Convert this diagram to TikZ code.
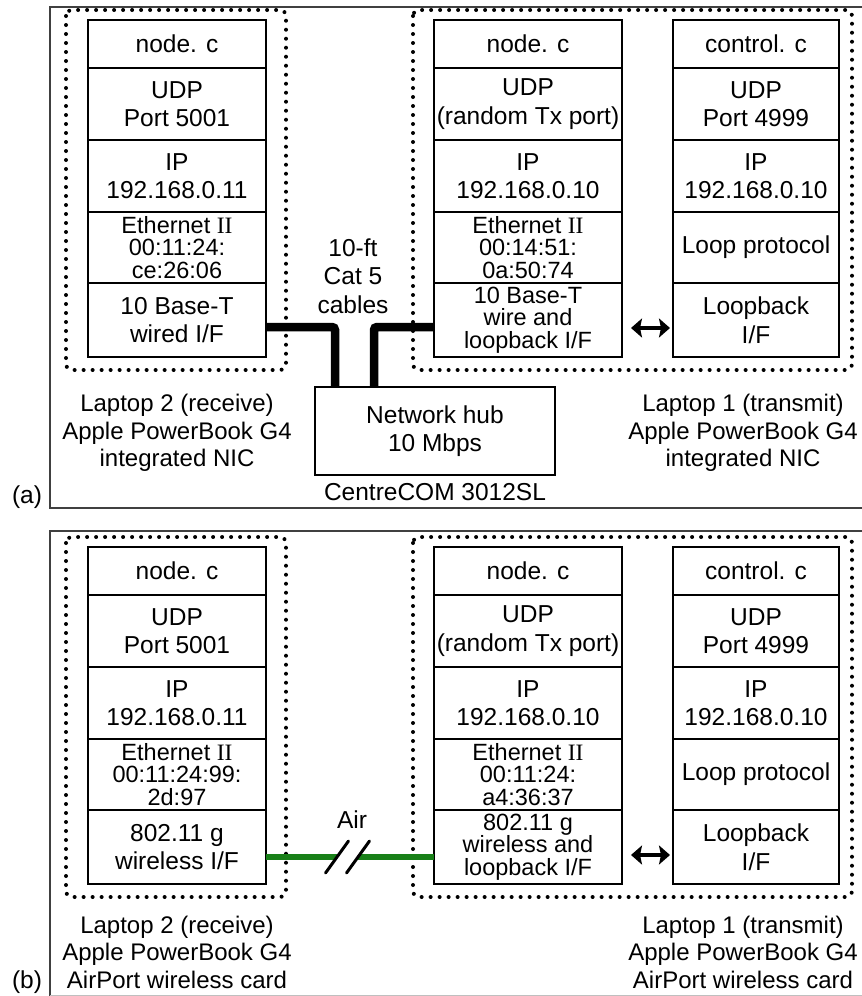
\documentclass[tikz,border=0pt]{standalone}
\usepackage{fontspec}
\setmainfont{Liberation Sans}
\newfontfamily\serifII{Liberation Serif}
\usetikzlibrary{arrows.meta,calc}
\newcommand\fsn{\fontsize{24.5}{28.5}\selectfont}
\newcommand\fst{\fontsize{23.5}{22.5}\selectfont}
\newcommand\fsc{\fontsize{24}{27.5}\selectfont}
\definecolor{wifigreen}{RGB}{24,128,24}
\begin{document}
\begin{tikzpicture}[x=1pt,y=-1pt,
  layer/.style={draw,line width=1.6pt,inner sep=0pt,outer sep=0pt,anchor=north west,align=center,font=\fsn},
  tightrow/.style={font=\fst},
  colL/.style={minimum width=178},
  colM/.style={minimum width=188},
  colR/.style={minimum width=166},
  hA/.style={minimum height=48},
  hB/.style={minimum height=72},
  hC/.style={minimum height=72},
  hD/.style={minimum height=71},
  hE/.style={minimum height=74},
  caption/.style={align=center,font=\fsc,inner sep=0pt},
  plain/.style={align=center,font=\fsn,inner sep=0pt},
  dotbox/.style={line width=4pt,dash pattern=on 0pt off 9pt,line cap=round,rounded corners=6pt},
  frame/.style={line width=1.5pt,draw=black!75},
  cable/.style={line width=8.5pt,rounded corners=3pt},
  wifi/.style={line width=5.5pt,draw=wifigreen},
  slash/.style={line width=3pt,line cap=round},
  dblarrow/.style={line width=4.5pt,{Stealth[length=11pt,width=19pt,inset=2pt]}-{Stealth[length=11pt,width=19pt,inset=2pt]}}
]
\useasboundingbox (0,0) rectangle (862,996);

% ---------------- panel (a) ----------------
\draw[frame] (862,7) -- (50,7) -- (50,508) -- (862,508);
\node[plain] (labA) at (27,497) {(a)};

\draw[dotbox] (66,10) rectangle (286,370);
\draw[dotbox] (413,10) rectangle (852,370);

% left stack
\node[layer,colL,hA] (la1) at (88,20) {node. c};
\node[layer,colL,hB] (la2) at (la1.south west) {UDP\\Port 5001};
\node[layer,colL,hC] (la3) at (la2.south west) {IP\\192.168.0.11};
\node[layer,colL,hD,tightrow] (la4) at (la3.south west) {Ethernet {\serifII II}\\00:11:24:\\ce:26:06};
\node[layer,colL,hE] (la5) at (la4.south west) {10 Base-T\\wired I/F};
% middle stack
\node[layer,colM,hA] (ma1) at (434,20) {node. c};
\node[layer,colM,hB] (ma2) at (ma1.south west) {UDP\\(random Tx port)};
\node[layer,colM,hC] (ma3) at (ma2.south west) {IP\\192.168.0.10};
\node[layer,colM,hD,tightrow] (ma4) at (ma3.south west) {Ethernet {\serifII II}\\00:14:51:\\0a:50:74};
\node[layer,colM,hE,tightrow] (ma5) at (ma4.south west) {10 Base-T\\wire and\\loopback I/F};
% right stack
\node[layer,colR,hA] (ra1) at (673,20) {control. c};
\node[layer,colR,hB] (ra2) at (ra1.south west) {UDP\\Port 4999};
\node[layer,colR,hC] (ra3) at (ra2.south west) {IP\\192.168.0.10};
\node[layer,colR,hD] (ra4) at (ra3.south west) {Loop protocol};
\node[layer,colR,hE] (ra5) at (ra4.south west) {Loopback\\I/F};

\draw[dblarrow] ([xshift=9pt,yshift=-8pt]ma5.east) -- ([xshift=-3pt,yshift=-8pt]ra5.west);

% hub and cables
\node[layer,minimum width=240,minimum height=88] (hub) at (315,387) {Network hub\\10 Mbps};
\node[plain] (hubname) at (435,492) {CentreCOM 3012SL};
\node[plain] (cat5) at (353,276) {10-ft\\Cat 5\\cables};
\coordinate (cl) at (335,0);
\coordinate (cr) at (374,0);
\draw[cable] ([yshift=-7pt]la5.east) -| (hub.north -| cl);
\draw[cable] (hub.north -| cr) |- ([yshift=-7pt]ma5.west);

\node[caption] (capLa) at (177,433) {Laptop 2 (receive)\\Apple PowerBook G4\\integrated NIC};
\node[caption] (capRa) at (743,433) {Laptop 1 (transmit)\\Apple PowerBook G4\\integrated NIC};

% ---------------- panel (b) ----------------
\draw[frame] (862,531) -- (50,531) -- (50,996);
\draw[line width=1pt,draw=black!25] (50,995.5) -- (862,995.5);
\node[plain] (labB) at (27,982) {(b)};

\draw[dotbox] (66,537) rectangle (286,897);
\draw[dotbox] (413,537) rectangle (852,897);

\node[layer,colL,hA] (lb1) at (88,547) {node. c};
\node[layer,colL,hB] (lb2) at (lb1.south west) {UDP\\Port 5001};
\node[layer,colL,hC] (lb3) at (lb2.south west) {IP\\192.168.0.11};
\node[layer,colL,hD,tightrow] (lb4) at (lb3.south west) {Ethernet {\serifII II}\\00:11:24:99:\\2d:97};
\node[layer,colL,hE] (lb5) at (lb4.south west) {802.11 g\\wireless I/F};

\node[layer,colM,hA] (mb1) at (434,547) {node. c};
\node[layer,colM,hB] (mb2) at (mb1.south west) {UDP\\(random Tx port)};
\node[layer,colM,hC] (mb3) at (mb2.south west) {IP\\192.168.0.10};
\node[layer,colM,hD,tightrow] (mb4) at (mb3.south west) {Ethernet {\serifII II}\\00:11:24:\\a4:36:37};
\node[layer,colM,hE,tightrow] (mb5) at (mb4.south west) {802.11 g\\wireless and\\loopback I/F};

\node[layer,colR,hA] (rb1) at (673,547) {control. c};
\node[layer,colR,hB] (rb2) at (rb1.south west) {UDP\\Port 4999};
\node[layer,colR,hC] (rb3) at (rb2.south west) {IP\\192.168.0.10};
\node[layer,colR,hD] (rb4) at (rb3.south west) {Loop protocol};
\node[layer,colR,hE] (rb5) at (rb4.south west) {Loopback\\I/F};

\draw[dblarrow] ([xshift=9pt,yshift=-8pt]mb5.east) -- ([xshift=-3pt,yshift=-8pt]rb5.west);

% wireless link
\coordinate (airL) at (337,857);
\coordinate (airR) at (358,857);
\draw[wifi] (lb5.east |- airL) -- (airL);
\draw[wifi] (airR) -- (mb5.west |- airR);
\draw[slash] ($(airL)+(-11.5,16)$) -- ($(airL)+(11.5,-16)$);
\draw[slash] ($(airR)+(-11.5,16)$) -- ($(airR)+(11.5,-16)$);
\node[plain] (air) at (352,820) {Air};

\node[caption] (capLb) at (177,952) {Laptop 2 (receive)\\Apple PowerBook G4\\AirPort wireless card};
\node[caption] (capRb) at (743,952) {Laptop 1 (transmit)\\Apple PowerBook G4\\AirPort wireless card};
\end{tikzpicture}
\end{document}
